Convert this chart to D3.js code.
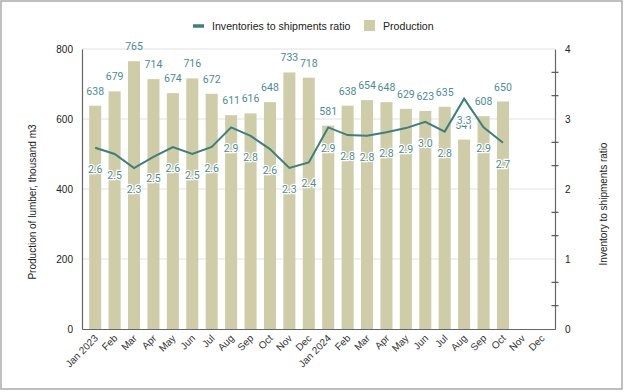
<!DOCTYPE html>
<html>
<head>
<meta charset="utf-8">
<script src="https://cdn.jsdelivr.net/npm/d3@7"></script>
<style>
  body { margin: 0; background: #fff; }
  text { font-family: "Liberation Sans", Arial, sans-serif; }
</style>
</head>
<body>
<div id="chart"></div>
<script>
var width = 624;
var height = 392;

// months, Jan 2023 .. Dec 2024
var months = ["Jan 2023", "Feb", "Mar", "Apr", "May", "Jun", "Jul", "Aug", "Sep", "Oct", "Nov", "Dec",
              "Jan 2024", "Feb", "Mar", "Apr", "May", "Jun", "Jul", "Aug", "Sep", "Oct", "Nov", "Dec"];
// production of lumber, thousand m3 (Jan 2023 .. Oct 2024)
var production = [638, 679, 765, 714, 674, 716, 672, 611, 616, 648, 733, 718,
                  581, 638, 654, 648, 629, 623, 635, 541, 608, 650];
// inventories to shipments ratio
var ratio = [2.59, 2.50, 2.30, 2.46, 2.60, 2.50, 2.60, 2.88, 2.76, 2.57, 2.30, 2.38,
             2.88, 2.77, 2.76, 2.81, 2.87, 2.96, 2.82, 3.29, 2.88, 2.66];
var leftTicks = [0, 200, 400, 600, 800];
var rightTicks = [0, 1, 2, 3, 4];

var barColor = "#cfcca8";
var lineColor = "#3b7f7e";
var labelColor = "#4a8d93";

var margin = {left: 82, right: 555, top: 49, bottom: 329};

var svg = d3.select("#chart").append("svg")
    .attr("width", width)
    .attr("height", height);

// outer frame
svg.append("rect")
    .attr("x", 1).attr("y", 1)
    .attr("width", width - 3).attr("height", height - 4)
    .style("fill", "none")
    .style("stroke", "#aaa")
    .style("stroke-width", 1.5);

var xScale = d3.scaleBand()
    .domain(d3.range(months.length))
    .range([margin.left, margin.right])
    .paddingInner(0.38)
    .paddingOuter(0.37);

var yScale = d3.scaleLinear()
    .domain([0, 800])
    .range([margin.bottom, margin.top]);

var yRight = d3.scaleLinear()
    .domain([0, 4])
    .range([margin.bottom, margin.top]);

// grid lines
svg.selectAll(".grid")
    .data(leftTicks.filter(function(d) { return d > 0; }))
    .enter().append("line")
    .attr("class", "grid")
    .attr("x1", margin.left).attr("x2", margin.right)
    .attr("y1", function(d) { return yScale(d); })
    .attr("y2", function(d) { return yScale(d); })
    .style("stroke", "#e2e2e2")
    .style("stroke-width", 1.2);

// bars
svg.selectAll(".bar")
    .data(production)
    .enter().append("rect")
    .attr("class", "bar")
    .attr("x", function(d, i) { return xScale(i); })
    .attr("width", xScale.bandwidth())
    .attr("y", function(d) { return yScale(d); })
    .attr("height", function(d) { return yScale(0) - yScale(d); })
    .style("fill", barColor);

// left axis
var leftAxis = svg.append("g")
    .attr("transform", "translate(" + margin.left + ",0)")
    .call(d3.axisLeft(yScale).tickValues(leftTicks).tickSize(0).tickPadding(9));
leftAxis.select(".domain").style("stroke", "#666").style("stroke-width", 1.2);
leftAxis.selectAll("text").style("font-size", "10px").style("fill", "#222");

// right axis: labels on integers, small ticks on thirds
var rightAxis = svg.append("g")
    .attr("transform", "translate(" + margin.right + ",0)")
    .call(d3.axisRight(yRight).tickValues(rightTicks).tickSize(0).tickPadding(10)
        .tickFormat(d3.format("d")));
rightAxis.select(".domain").style("stroke", "#666").style("stroke-width", 1.2);
rightAxis.selectAll("text").style("font-size", "10px").style("fill", "#222");

var minor = d3.range(0, 12).map(function(k) { return k / 3; }).filter(function(d, k) { return k % 3 != 0; });
svg.selectAll(".minor")
    .data(minor)
    .enter().append("line")
    .attr("x1", margin.right - 3.5).attr("x2", margin.right + 3.5)
    .attr("y1", function(d) { return yRight(d); })
    .attr("y2", function(d) { return yRight(d); })
    .style("stroke", "#555")
    .style("stroke-width", 1.2);

// bottom axis
var bottomAxis = svg.append("g")
    .attr("transform", "translate(0," + margin.bottom + ")")
    .call(d3.axisBottom(xScale).tickSize(0).tickFormat(function(i) { return months[i]; }));
bottomAxis.select(".domain").style("stroke", "#666").style("stroke-width", 1.2);
bottomAxis.selectAll("text")
    .style("font-size", "10px")
    .style("fill", "#333")
    .style("text-anchor", "end")
    .attr("x", -4.5)
    .attr("y", 9.5)
    .attr("dy", 0)
    .attr("transform", "rotate(-45)");

// bar labels
svg.selectAll(".barlabel")
    .data(production)
    .enter().append("text")
    .attr("class", "barlabel")
    .attr("x", function(d, i) { return xScale(i) + xScale.bandwidth() / 2; })
    .attr("y", function(d) { return yScale(d) - 11; })
    .attr("text-anchor", "middle")
    .style("font-family", "Roboto, sans-serif")
    .style("font-size", "10.5px")
    .style("fill", labelColor)
    .text(function(d) { return d; });

// ratio line
var line1 = d3.line()
    .x(function(d, i) { return xScale(i) + xScale.bandwidth() / 2; })
    .y(function(d) { return yRight(d); });

svg.append("path")
    .attr("d", line1(ratio))
    .style("fill", "none")
    .style("stroke", lineColor)
    .style("stroke-width", 2);

// ratio labels with white halo
svg.selectAll(".ratiolabel")
    .data(ratio)
    .enter().append("text")
    .attr("class", "ratiolabel")
    .attr("x", function(d, i) { return xScale(i) + xScale.bandwidth() / 2; })
    .attr("y", function(d) { return yRight(d) + 25; })
    .attr("text-anchor", "middle")
    .style("font-family", "Roboto, sans-serif")
    .style("font-size", "10.5px")
    .style("fill", labelColor)
    .style("stroke", "#fff")
    .style("stroke-width", 2.5)
    .style("paint-order", "stroke")
    .text(function(d) { return d.toFixed(1); });

// axis titles
svg.append("text")
    .attr("transform", "translate(36,202) rotate(-90)")
    .attr("text-anchor", "middle")
    .style("font-size", "10px")
    .style("fill", "#222")
    .text("Production of lumber, thousand m3");

svg.append("text")
    .attr("transform", "translate(607,204) rotate(-90)")
    .attr("text-anchor", "middle")
    .style("font-size", "10px")
    .style("fill", "#222")
    .text("Inventory to shipments ratio");

// legend
var legend = svg.append("g");
legend.append("line")
    .attr("x1", 193).attr("x2", 204)
    .attr("y1", 26).attr("y2", 26)
    .style("stroke", lineColor)
    .style("stroke-width", 3.5);
legend.append("text")
    .attr("x", 212).attr("y", 30)
    .style("font-size", "10.6px")
    .style("fill", "#222")
    .text("Inventories to shipments ratio");
legend.append("rect")
    .attr("x", 364).attr("y", 20)
    .attr("width", 11).attr("height", 11)
    .style("fill", barColor);
legend.append("text")
    .attr("x", 383).attr("y", 30)
    .style("font-size", "10.6px")
    .style("fill", "#222")
    .text("Production");
</script>
</body>
</html>
